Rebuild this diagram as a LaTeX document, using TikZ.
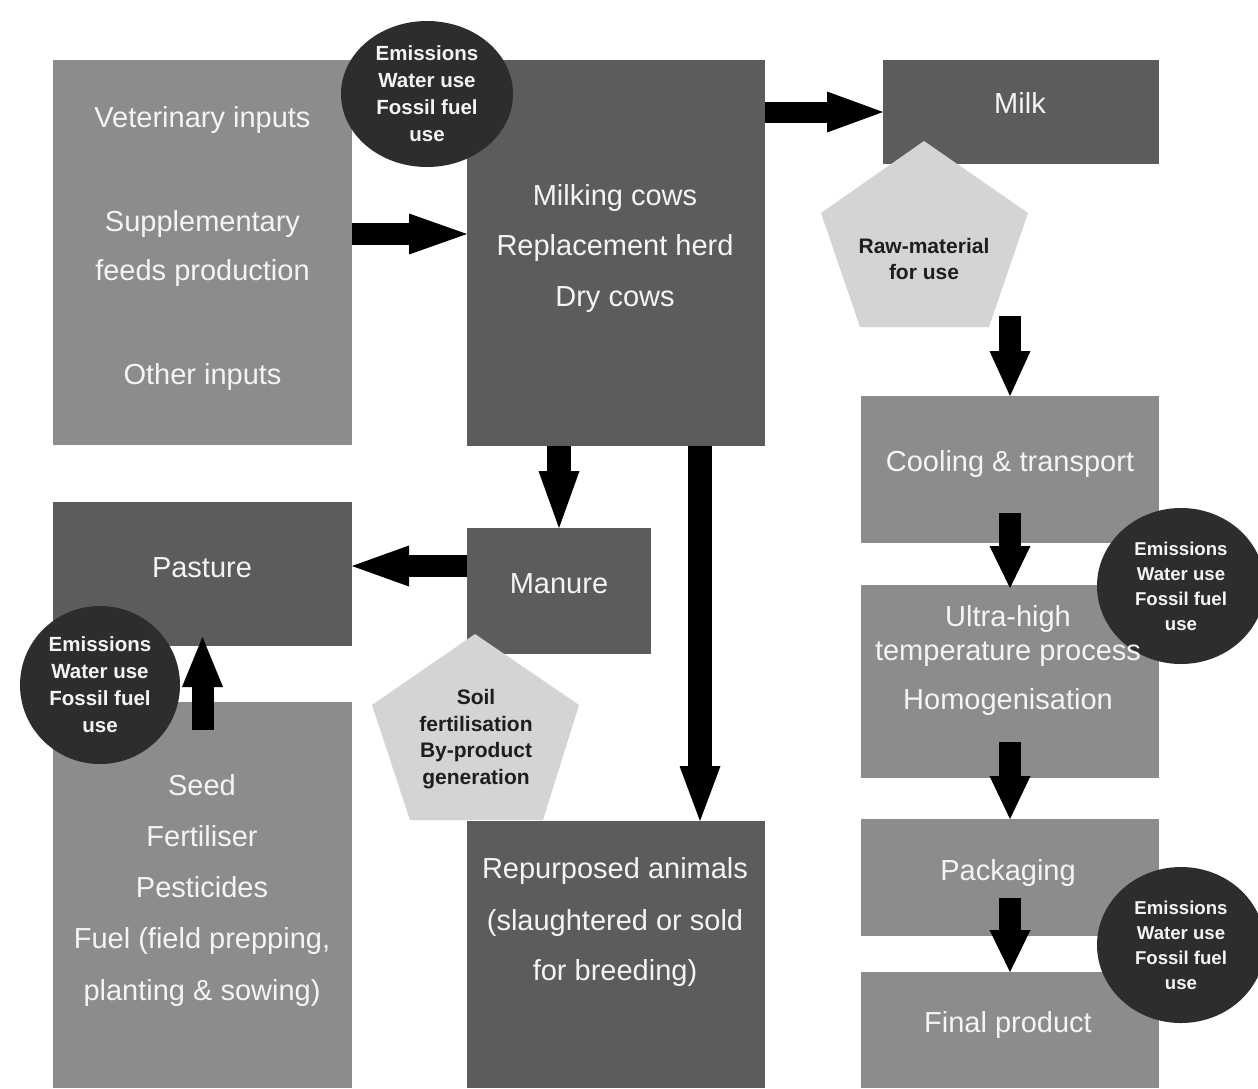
\documentclass[tikz,border=0pt]{standalone}
\usepackage{fontspec}
\setmainfont{Liberation Sans}
\usetikzlibrary{shapes.geometric,calc}
\definecolor{boxlight}{HTML}{8C8C8C}
\definecolor{boxdark}{HTML}{5C5C5C}
\definecolor{circdark}{HTML}{2D2D2D}
\definecolor{pentfill}{HTML}{D4D4D4}
\definecolor{txtlight}{HTML}{F4F4F4}
\definecolor{txtdark}{HTML}{1E1E1E}
\newcommand\fatarr[4]{%
  \coordinate (fah) at ($(#2)!#3!(#1)$);
  \draw[line width=#4, black] (#1) -- (fah);
  \fill[black] ($(fah)!20.5pt!90:(#2)$) -- (#2) -- ($(fah)!20.5pt!-90:(#2)$) -- cycle;
}
\begin{document}
\begin{tikzpicture}[x=1pt,y=-1pt,
  box/.style={draw=none, inner sep=0pt, outer sep=0pt},
  btxt/.style={inner sep=0pt, text=txtlight, font=\fontsize{29}{34}\selectfont, text height=20pt, text depth=0pt},
  ptxt/.style={inner sep=0pt, text=txtdark, align=center, font=\bfseries\fontsize{21}{26.5}\selectfont},
  circ/.style={ellipse, fill=circdark, inner sep=0pt, text=txtlight, align=center},
  ctxt/.style={font=\bfseries\fontsize{20.5}{27}\selectfont},
  ctxts/.style={font=\bfseries\fontsize{18.6}{25}\selectfont}]
\useasboundingbox (0,0) rectangle (1258,1088);
\fill[white] (0,0) rectangle (1258,1088);

% boxes
\node[box,fill=boxlight,minimum width=299pt,minimum height=385pt] (inputs) at (202.5,252.5) {};
\node[box,fill=boxdark,minimum width=298pt,minimum height=386pt] (herd) at (616,253) {};
\node[box,fill=boxdark,minimum width=276pt,minimum height=104pt] (milk) at (1021,112) {};
\node[box,fill=boxlight,minimum width=298pt,minimum height=147pt] (cooling) at (1010,469.5) {};
\node[box,fill=boxlight,minimum width=298pt,minimum height=193pt] (uht) at (1010,681.5) {};
\node[box,fill=boxlight,minimum width=298pt,minimum height=117pt] (packaging) at (1010,877.5) {};
\node[box,fill=boxlight,minimum width=298pt,minimum height=116pt] (final) at (1010,1030) {};
\node[box,fill=boxdark,minimum width=299pt,minimum height=144pt] (pasture) at (202.5,574) {};
\node[box,fill=boxdark,minimum width=184pt,minimum height=126pt] (manure) at (559,591) {};
\node[box,fill=boxlight,minimum width=299pt,minimum height=386pt] (seed) at (202.5,895) {};
\node[box,fill=boxdark,minimum width=298pt,minimum height=267pt] (repurp) at (616,954.5) {};

% pentagons
\fill[pentfill] (924,141) -- (1028,213) -- (989,327) -- (860,327) -- (821,213) -- cycle;
\node[ptxt] (raw) at (924,259) {Raw-material\\for use};
\fill[pentfill] (475,634) -- (579,705) -- (543,820) -- (410,820) -- (372,705) -- cycle;
\node[ptxt] (soil) at (476,739) {Soil\\fertilisation\\By-product\\generation};

% emission circles
\node[circ,ctxt,minimum width=172pt,minimum height=146pt] (emtop) at (427,94) {Emissions\\Water use\\Fossil fuel\\use};
\node[circ,ctxt,minimum width=160pt,minimum height=158pt] (empast) at (100,685) {Emissions\\Water use\\Fossil fuel\\use};
\node[circ,ctxts,minimum width=168pt,minimum height=156pt] (emuht) at (1181,586) {Emissions\\Water use\\Fossil fuel\\use};
\node[circ,ctxts,minimum width=168pt,minimum height=156pt] (empack) at (1181,945) {Emissions\\Water use\\Fossil fuel\\use};

% box texts
\node[btxt] (t1) at (202.5,117) {Veterinary inputs};
\node[btxt] (t2) at (202.5,221) {Supplementary};
\node[btxt] (t3) at (202.5,270) {feeds production};
\node[btxt] (t4) at (202.5,374) {Other inputs};
\node[btxt] (t5) at (615,195) {Milking cows};
\node[btxt] (t6) at (615,245) {Replacement herd};
\node[btxt] (t7) at (615,296) {Dry cows};
\node[btxt] (t8) at (1020,103) {Milk};
\node[btxt] (t9) at (1010,461) {Cooling \& transport};
\node[btxt] (t10) at (1008,616) {Ultra-high};
\node[btxt] (t11) at (1008,650) {temperature process};
\node[btxt] (t12) at (1008,699) {Homogenisation};
\node[btxt] (t13) at (1008,870) {Packaging};
\node[btxt] (t14) at (1008,1022) {Final product};
\node[btxt] (t15) at (202,567) {Pasture};
\node[btxt] (t16) at (559,583) {Manure};
\node[btxt] (t17) at (202,785) {Seed};
\node[btxt] (t18) at (202,836) {Fertiliser};
\node[btxt] (t19) at (202,887) {Pesticides};
\node[btxt] (t20) at (202,938) {Fuel (field prepping,};
\node[btxt] (t21) at (202,990) {planting \& sowing)};
\node[btxt] (t22) at (615,868) {Repurposed animals};
\node[btxt] (t23) at (615,920) {(slaughtered or sold};
\node[btxt] (t24) at (615,970) {for breeding)};

% arrow end points
\coordinate (a1s) at ([yshift=18.5pt]inputs.east);
\coordinate (a1e) at ([yshift=19pt]herd.west);
\coordinate (a2s) at (herd.east |- milk.west);
\coordinate (a3s) at (herd.south -| manure.north);
\coordinate (a4s) at ([xshift=84pt]herd.south);
\coordinate (a4e) at ([xshift=84pt]repurp.north);
\coordinate (a5s) at ([yshift=25pt]manure.west);
\coordinate (a5e) at (a5s -| pasture.east);
\coordinate (a6s) at ([yshift=-28pt]seed.north);
\coordinate (a6e) at ([yshift=9pt]pasture.south);
\coordinate (a7s) at (1010,316);
\coordinate (a8s) at ([yshift=30pt]cooling.south);
\coordinate (a8e) at ([yshift=-3pt]uht.north);
\coordinate (a9s) at ([yshift=36pt]uht.south);
\coordinate (a10s) at ([yshift=38pt]packaging.south);

% arrows
\fatarr{a1s}{a1e}{58pt}{22pt}
\fatarr{a2s}{milk.west}{56pt}{21pt}
\fatarr{a3s}{manure.north}{57pt}{24pt}
\fatarr{a4s}{a4e}{55pt}{24pt}
\fatarr{a5s}{a5e}{57pt}{22pt}
\fatarr{a6s}{a6e}{50pt}{22pt}
\fatarr{a7s}{cooling.north}{45pt}{22pt}
\fatarr{a8s}{a8e}{42pt}{22pt}
\fatarr{a9s}{packaging.north}{43pt}{22pt}
\fatarr{a10s}{final.north}{42pt}{22pt}
\end{tikzpicture}
\end{document}
